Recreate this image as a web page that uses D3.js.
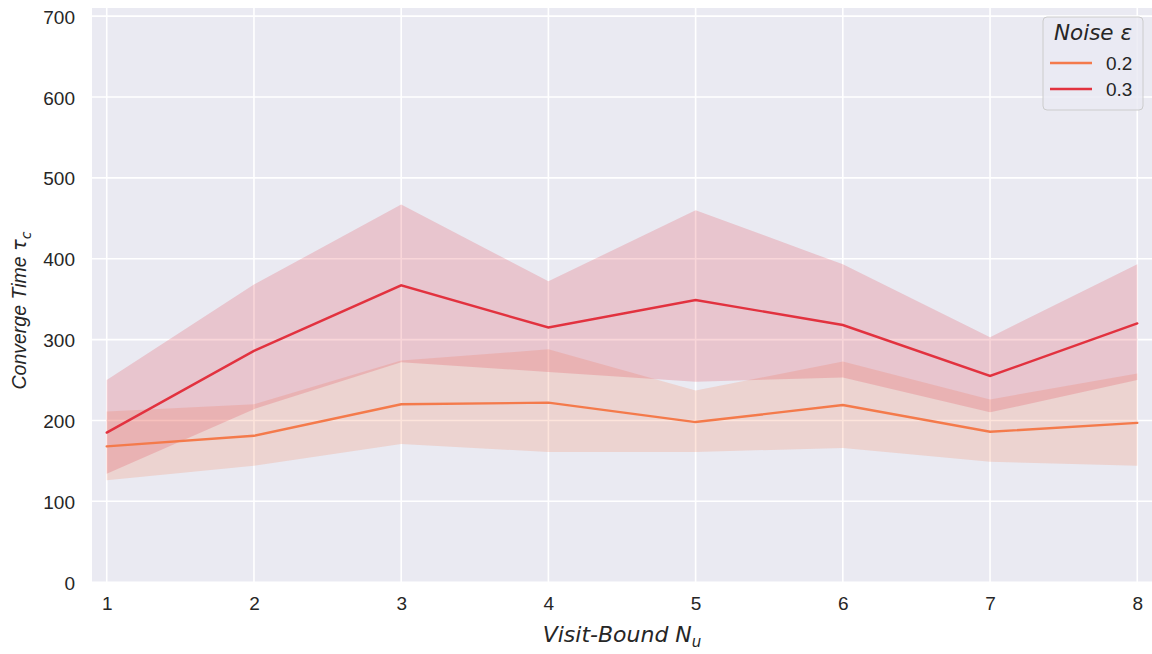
<!DOCTYPE html>
<html>
<head>
<meta charset="utf-8">
<script src="https://cdn.jsdelivr.net/npm/d3@7"></script>
<style>
  body { margin: 0; background: #fff; }
  svg text { fill: #262626; }
</style>
</head>
<body>
<svg id="chart" width="1152" height="654"></svg>
<script>
// visit-bound values on the x axis
const visitBound = [1, 2, 3, 4, 5, 6, 7, 8];
const noiseLabels = ["0.2", "0.3"];
const lineColors = ["#f47a4b", "#e2323f"];

// mean converge time and the shaded interval, per noise level
const mean02  = [168, 181, 220, 222, 198, 219, 186, 197];
const lower02 = [126, 144, 171, 161, 161, 166, 149, 144];
const upper02 = [211, 220, 274, 288, 237, 273, 226, 258];

const mean03  = [185, 286, 367, 315, 349, 318, 255, 320];
const lower03 = [134, 214, 272, 260, 248, 253, 210, 250];
const upper03 = [250, 368, 467, 372, 460, 393, 303, 393];

const yTicks = [0, 100, 200, 300, 400, 500, 600, 700];

const series = [
  {name: noiseLabels[0], color: lineColors[0], mean: mean02, lo: lower02, hi: upper02},
  {name: noiseLabels[1], color: lineColors[1], mean: mean03, lo: lower03, hi: upper03}
];

const W = 1152, H = 654;
const M = {left: 92, right: 0, top: 8, bottom: 71};

const svg = d3.select("#chart");

const x = d3.scaleLinear().domain([0.9, 8.1]).range([M.left, W - M.right]);
const y = d3.scaleLinear().domain([-1, 710]).range([H - M.bottom, M.top]);

// background
svg.append("rect")
  .attr("x", M.left).attr("y", M.top)
  .attr("width", W - M.left - M.right).attr("height", H - M.top - M.bottom)
  .attr("fill", "#eaeaf2");

// grid
const grid = svg.append("g");
grid.selectAll("line.gx").data(visitBound).enter().append("line")
  .attr("x1", d => x(d)).attr("x2", d => x(d))
  .attr("y1", M.top).attr("y2", H - M.bottom)
  .attr("stroke", "#fff").attr("stroke-width", 1.6);
grid.selectAll("line.gy").data(yTicks).enter().append("line")
  .attr("x1", M.left).attr("x2", W - M.right)
  .attr("y1", d => y(d)).attr("y2", d => y(d))
  .attr("stroke", "#fff").attr("stroke-width", 1.6);

// bands
const area = d3.area()
  .x((d, i) => x(visitBound[i]))
  .y0(d => y(d[0]))
  .y1(d => y(d[1]));

series.forEach(s => {
  svg.append("path")
    .datum(s.lo.map((v, i) => [v, s.hi[i]]))
    .attr("d", area)
    .attr("fill", s.color)
    .attr("fill-opacity", 0.2);
});

// lines
const line = d3.line()
  .x((d, i) => x(visitBound[i]))
  .y(d => y(d));

series.forEach(s => {
  svg.append("path")
    .datum(s.mean)
    .attr("d", line)
    .attr("fill", "none")
    .attr("stroke", s.color)
    .attr("stroke-width", 2.4)
    .attr("stroke-linecap", "round");
});

// axes (tick labels only, seaborn darkgrid style)
const xAxis = svg.append("g")
  .attr("transform", `translate(0,${H - M.bottom})`)
  .call(d3.axisBottom(x).tickValues(visitBound).tickSize(0).tickPadding(14).tickFormat(d3.format("d")));
const yAxis = svg.append("g")
  .attr("transform", `translate(${M.left},1)`)
  .call(d3.axisLeft(y).tickValues(yTicks).tickSize(0).tickPadding(17).tickFormat(d3.format("d")));
[xAxis, yAxis].forEach(a => {
  a.select(".domain").remove();
  a.selectAll("text")
    .attr("font-family", "'Liberation Sans', Arial, sans-serif")
    .attr("font-size", 19)
    .attr("fill", "#262626");
});

// axis labels
svg.append("text")
  .attr("x", (M.left + W - M.right) / 2)
  .attr("y", 642)
  .attr("text-anchor", "middle")
  .attr("font-family", "'DejaVu Sans', sans-serif")
  .attr("font-style", "italic")
  .attr("font-size", 22)
  .html('Visit-Bound N<tspan font-size="15" dy="5">u</tspan>');

svg.append("text")
  .attr("transform", `translate(26,${(M.top + H - M.bottom) / 2 + 15}) rotate(-90)`)
  .attr("text-anchor", "middle")
  .attr("font-family", "'Liberation Sans', Arial, sans-serif")
  .attr("font-style", "italic")
  .attr("font-size", 19.5)
  .html('Converge Time <tspan font-family="DejaVu Sans">τ</tspan><tspan font-family="DejaVu Sans" font-size="14" dy="5">c</tspan>');

// legend
const lg = svg.append("g").attr("transform", "translate(1043,17)");
lg.append("rect")
  .attr("width", 100).attr("height", 93)
  .attr("rx", 4)
  .attr("fill", "#eaeaf2").attr("fill-opacity", 0.8)
  .attr("stroke", "#cccccc").attr("stroke-width", 1);
lg.append("text")
  .attr("x", 50).attr("y", 23)
  .attr("text-anchor", "middle")
  .attr("font-family", "'DejaVu Sans', sans-serif")
  .attr("font-style", "italic")
  .attr("font-size", 21.5)
  .text("Noise ε");
const items = lg.selectAll("g.item").data(series).enter().append("g")
  .attr("transform", (d, i) => `translate(0,${46 + i * 26})`);
items.append("line")
  .attr("x1", 7).attr("x2", 49)
  .attr("stroke", d => d.color).attr("stroke-width", 2.4);
items.append("text")
  .attr("x", 63).attr("y", 7)
  .attr("font-family", "'Liberation Sans', Arial, sans-serif")
  .attr("font-size", 19)
  .text(d => d.name);
</script>
</body>
</html>
